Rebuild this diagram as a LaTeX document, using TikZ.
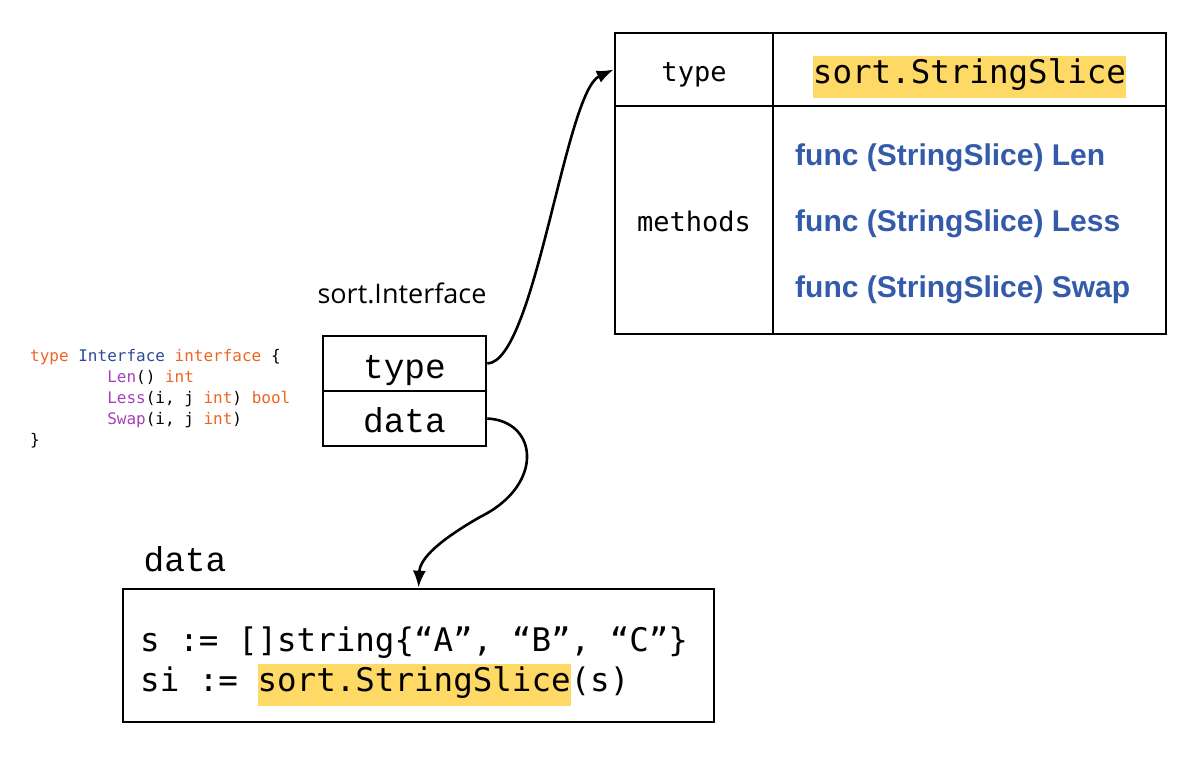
\documentclass[tikz,border=0pt]{standalone}
\usepackage{fontspec}
\usetikzlibrary{arrows.meta,positioning}
\newfontfamily\codefont{DejaVu Sans Mono}[WordSpace={1,0,0},PunctuationSpace=WordSpace]
\newfontfamily\courfont{Liberation Mono}
\newfontfamily\labelfont{Open Sans}
\newfontfamily\funcfont{Liberation Sans}
\definecolor{hlyellow}{RGB}{255,217,102}
\definecolor{funcblue}{RGB}{52,90,170}
\definecolor{gokw}{RGB}{240,100,35}
\definecolor{gotype}{RGB}{45,75,150}
\definecolor{gofn}{RGB}{165,65,185}
\newcommand{\hlbox}[1]{{\setlength{\fboxsep}{0pt}\colorbox{hlyellow}{\rule[-14.5pt]{0pt}{42pt}#1}}}
\newcommand{\kw}[1]{\textcolor{gokw}{#1}}
\newcommand{\gfn}[1]{\textcolor{gofn}{#1}}

\tikzset{
  cell/.style={draw, line width=2.6pt, inner sep=0pt},
  link/.style={line width=2.6pt, -{Latex[length=17pt,width=13pt]}},
  funcline/.style={anchor=base west, inner sep=0pt, text=funcblue, font=\funcfont\bfseries\fontsize{30}{36}\selectfont},
  codeline/.style={anchor=base west, inner sep=0pt, font=\codefont\fontsize{32.5}{44}\selectfont}
}

\begin{document}
\begin{tikzpicture}[x=1pt, y=-1pt]
\useasboundingbox (0,0) rectangle (1204,758);

% method table of sort.StringSlice
\node[cell, minimum width=158pt, minimum height=73pt, text height=23pt, text depth=0pt, font=\codefont\fontsize{27}{32}\selectfont] (tbltype) at (694,69.5) {type};
\node[cell, minimum width=393pt, minimum height=73pt, text height=27pt, text depth=0pt, font=\codefont\fontsize{32.5}{40}\selectfont] (tblval) at (969.5,69.5) {\hlbox{sort.StringSlice}};
\node[cell, minimum width=158pt, minimum height=228pt, text height=22pt, text depth=0pt, font=\codefont\fontsize{27}{32}\selectfont] (tblmeth) at (694,220) {methods};
\node[cell, minimum width=393pt, minimum height=228pt] (tblfuncs) at (969.5,220) {};
\node[funcline] (fnlen) at (795,165) {func (StringSlice) Len};
\node[funcline] (fnless) at (795,231) {func (StringSlice) Less};
\node[funcline] (fnswap) at (795,297) {func (StringSlice) Swap};

% interface value
\node[anchor=base, font=\labelfont\fontsize{27}{32}\selectfont] (ifacename) at (402,303) {sort.Interface};
\node[cell, minimum width=163pt, minimum height=55pt, text height=29pt, text depth=0pt, font=\courfont\fontsize{34.5}{40}\selectfont] (ifacetype) at (404.5,363.5) {type};
\node[cell, minimum width=163pt, minimum height=55pt, text height=27pt, text depth=0pt, font=\courfont\fontsize{34.5}{40}\selectfont] (ifacedata) at (404.5,418.5) {data};

% go source of the interface
\node[anchor=north west, inner sep=0pt, align=left, font=\codefont\fontsize{16}{21}\selectfont] (gosrc) at (30,349) {%
\kw{type} \textcolor{gotype}{Interface} \kw{interface} \{\\
\phantom{00000000}\gfn{Len}() \kw{int}\\
\phantom{00000000}\gfn{Less}(i, j \kw{int}) \kw{bool}\\
\phantom{00000000}\gfn{Swap}(i, j \kw{int})\\
\}};

% data
\node[anchor=base, font=\courfont\fontsize{34.5}{40}\selectfont] (datalabel) at (185,571) {data};
\node[cell, minimum width=591pt, minimum height=133pt] (code) at (418.5,655.5) {};
\node[codeline] (codeslice) at (140,651) {s := []string\{“A”, “B”, “C”\}};
\node[codeline] (codeconv) at (140,691) {si := \hlbox{sort.StringSlice}(s)};

\draw[link] (ifacetype.east) .. controls (535,362) and (565,92) .. (tbltype.west);
\draw[link] (ifacedata.east) .. controls (538,421) and (545,485) .. (480,517) .. controls (440,540) and (420,558) .. (code.north);
\end{tikzpicture}
\end{document}
